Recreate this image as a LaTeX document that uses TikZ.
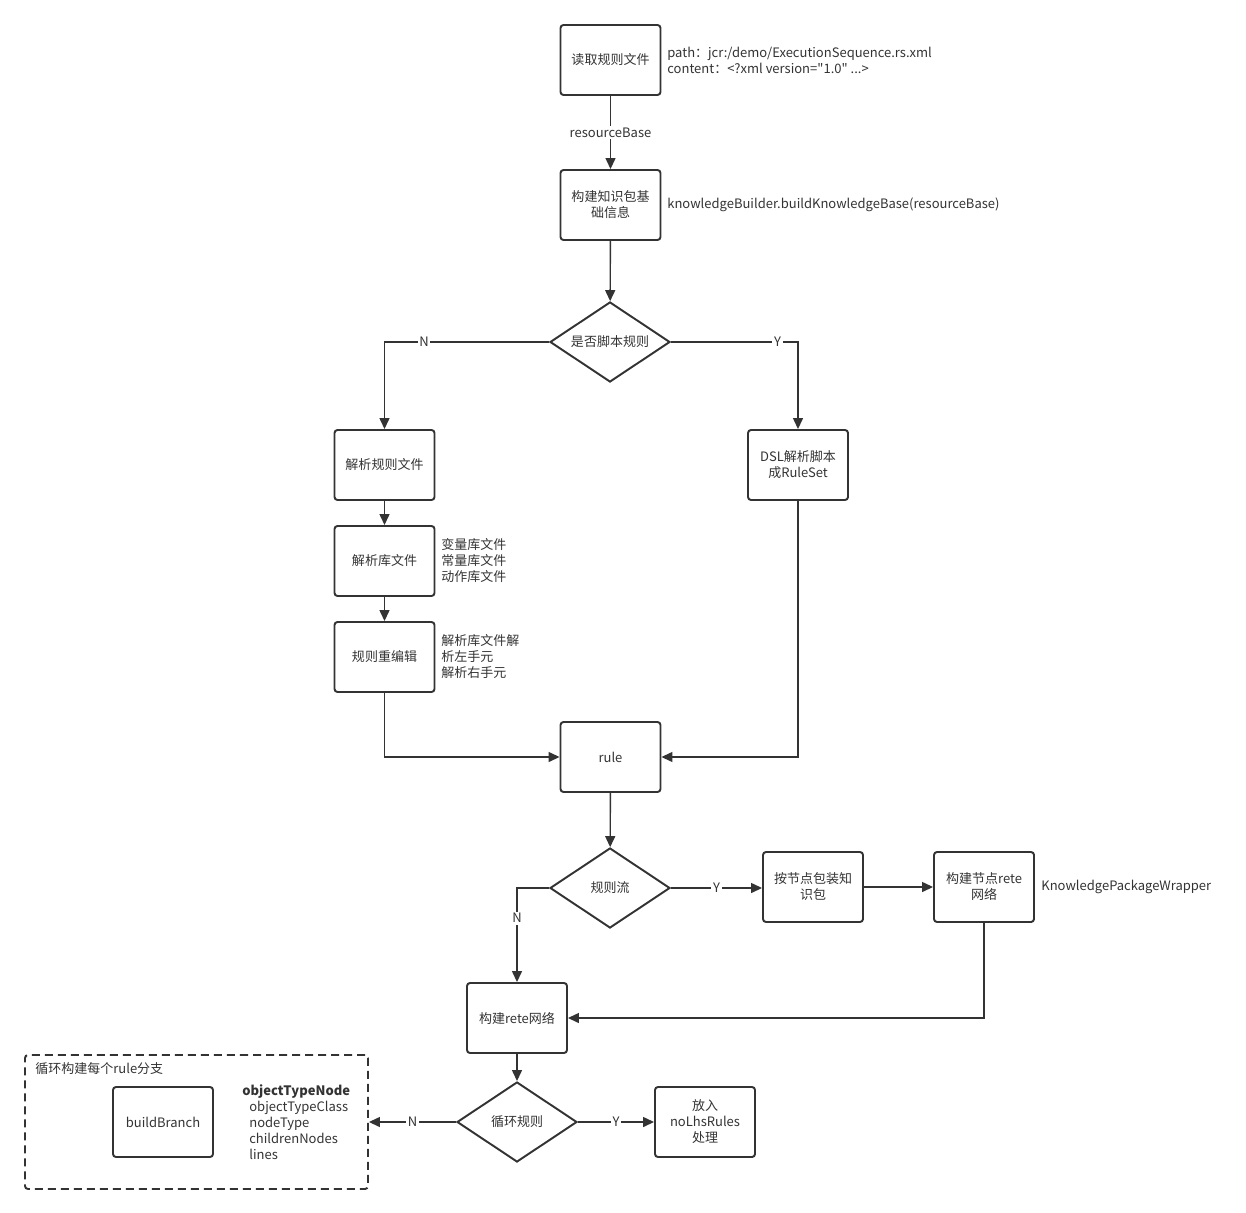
\documentclass[tikz,border=0pt]{standalone}
\usepackage{fontspec}
\setmainfont{Noto Sans CJK SC}[Ligatures=TeXOff]
\usetikzlibrary{arrows.meta,shapes.geometric}

\definecolor{lineclr}{HTML}{333333}
\tikzset{
    procbox/.style={draw=lineclr, line width=1.1pt, rounded corners=0.06cm,
        minimum width=2cm, minimum height=1.4cm, align=center, inner sep=1pt,
        text=lineclr},
    decision/.style={diamond, draw=lineclr, line width=1.1pt, shape aspect=1.5,
        minimum width=2.4cm, minimum height=1.6cm, inner sep=0pt, text=lineclr},
    note/.style={anchor=west, align=left, inner sep=0pt, text=lineclr},
    flow/.style={draw=lineclr, line width=0.8pt,
        -{Triangle[length=0.22cm, width=0.2cm]}},
    lab/.style={fill=white, inner sep=1pt, text=lineclr}
}

\begin{document}
\begin{tikzpicture}[font=\fontsize{7.4}{9.1}\selectfont]
    \useasboundingbox (0,0) rectangle (24.92,-24.26);

    % main column
    \node[procbox] (read) at (12.21,-1.2) {读取规则文件};
    \node[procbox] (build) at (12.21,-4.1) {构建知识包基\\础信息};
    \node[decision] (script) at (12.2,-6.84) {是否脚本规则};
    \node[procbox] (parse) at (7.69,-9.3) {解析规则文件};
    \node[procbox] (lib) at (7.69,-11.22) {解析库文件};
    \node[procbox] (reedit) at (7.69,-13.14) {规则重编辑};
    \node[procbox] (dsl) at (15.96,-9.3) {DSL解析脚本\\成RuleSet};
    \node[procbox] (rule) at (12.21,-15.14) {rule};
    \node[decision] (ruleflow) at (12.2,-17.76) {规则流};
    \node[procbox] (pack) at (16.26,-17.74) {按节点包装知\\识包};
    \node[procbox] (noderete) at (19.68,-17.74) {构建节点rete\\网络};
    \node[procbox] (rete) at (10.34,-20.36) {构建rete网络};
    \node[decision] (loop) at (10.34,-22.44) {循环规则};
    \node[procbox] (nolhs) at (14.1,-22.44) {放入\\noLhsRules\\处理};

    % loop container
    \node[draw=lineclr, line width=1.1pt, dash pattern=on 0.16cm off 0.1cm,
        rounded corners=0.06cm, minimum width=6.86cm, minimum height=2.68cm]
        (branchloop) at (3.93,-22.44) {};
    \node[note] (looptitle) at (0.7,-21.38) {循环构建每个rule分支};
    \node[procbox] (branch) at (3.26,-22.44) {buildBranch};
    \node[note] (otn) at (4.84,-22.44) {\textbf{objectTypeNode}\\
        \hspace{0.14cm}objectTypeClass\\
        \hspace{0.14cm}nodeType\\
        \hspace{0.14cm}childrenNodes\\
        \hspace{0.14cm}lines};

    % notes
    \node[note] (pathnote) at (13.34,-1.2) {path：jcr:/demo/ExecutionSequence.rs.xml\\content：<?xml version="1.0" ...>};
    \node[note] (kbnote) at (13.34,-4.1) {knowledgeBuilder.buildKnowledgeBase(resourceBase)};
    \node[note] (libnote) at (8.82,-11.22) {变量库文件\\常量库文件\\动作库文件};
    \node[note] (reeditnote) at (8.82,-13.14) {解析库文件解\\析左手元\\解析右手元};
    \node[note] (kpwnote) at (20.82,-17.74) {KnowledgePackageWrapper};

    % connectors
    \draw[flow] (read) -- node[lab] {resourceBase} (build);
    \draw[flow] (build) -- (script);
    \draw[flow] (script.west) -| node[lab, pos=0.38] {N} (parse.north);
    \draw[flow] (script.east) -| node[lab, pos=0.42] {Y} (dsl.north);
    \draw[flow] (parse) -- (lib);
    \draw[flow] (lib) -- (reedit);
    \draw[flow] (reedit.south) |- (rule.west);
    \draw[flow] (dsl.south) |- (rule.east);
    \draw[flow] (rule) -- (ruleflow);
    \draw[flow] (ruleflow.west) -| node[lab, pos=0.66] {N} (rete.north);
    \draw[flow] (ruleflow.east) -- node[lab, pos=0.5] {Y} (pack.west |- ruleflow.east);
    \draw[flow] (pack) -- (noderete);
    \draw[flow] (noderete.south) |- (rete.east);
    \draw[flow] (rete) -- (loop);
    \draw[flow] (loop.west) -- node[lab] {N} (branchloop.east);
    \draw[flow] (loop.east) -- node[lab] {Y} (nolhs.west);
\end{tikzpicture}
\end{document}
